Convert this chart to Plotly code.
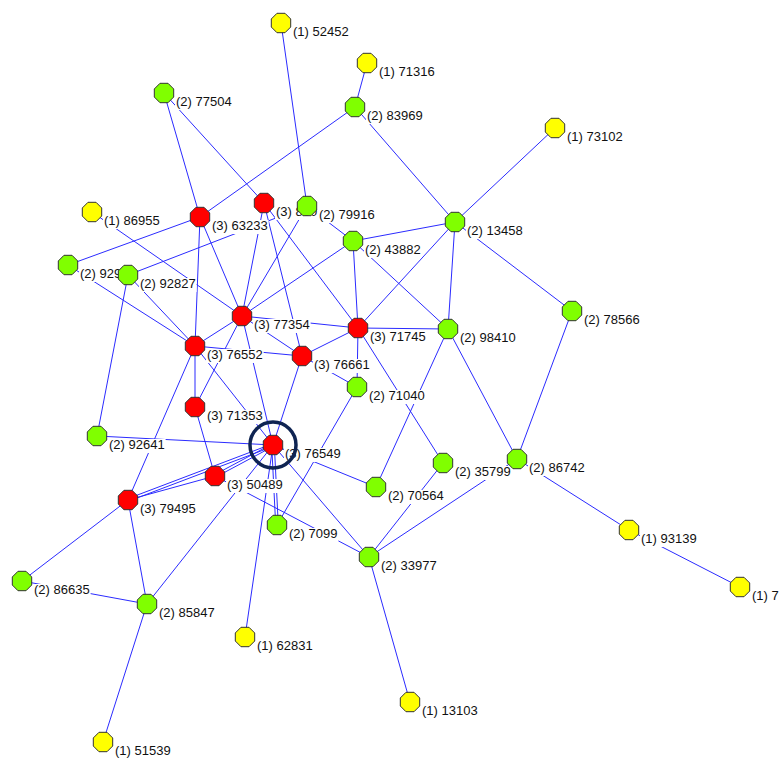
import math
import plotly.graph_objects as go

# ---- data ----
node_ids = ["52452", "71316", "83969", "77504", "73102", "86955", "63233", "860",
            "79916", "43882", "13458", "929", "92827", "77354", "71745", "98410",
            "78566", "76552", "76661", "71040", "71353", "92641", "76549", "50489",
            "79495", "35799", "86742", "70564", "7099", "33977", "93139", "7",
            "86635", "85847", "62831", "13103", "51539"]
node_level = [1, 1, 2, 2, 1, 1, 3, 3,
              2, 2, 2, 2, 2, 3, 3, 2,
              2, 3, 3, 2, 3, 2, 3, 3,
              3, 2, 2, 2, 2, 2, 1, 1,
              2, 2, 1, 1, 1]
node_x = [281, 367, 355, 164, 555, 92, 200, 264,
          307, 353, 455, 68, 128, 242, 358, 448,
          572, 195, 302, 357, 195, 97, 273, 215,
          128, 443, 517, 376, 277, 369, 629, 740,
          22, 147, 245, 410, 103]
node_y = [23, 63, 107, 93, 128, 212, 217, 203,
          206, 241, 222, 265, 275, 316, 328, 329,
          311, 346, 356, 387, 407, 436, 445, 476,
          500, 463, 459, 487, 525, 557, 530, 587,
          581, 604, 637, 702, 742]
edges = [("52452", "79916"), ("71316", "83969"), ("83969", "63233"), ("83969", "13458"),
         ("77504", "63233"), ("77504", "860"), ("73102", "13458"), ("86955", "77354"),
         ("63233", "929"), ("63233", "76552"), ("63233", "77354"), ("860", "77354"),
         ("860", "76661"), ("860", "71745"), ("79916", "92827"), ("79916", "77354"),
         ("79916", "43882"), ("43882", "13458"), ("43882", "71745"), ("43882", "98410"),
         ("43882", "77354"), ("13458", "71745"), ("13458", "98410"), ("13458", "78566"),
         ("929", "76552"), ("92827", "76552"), ("92827", "92641"), ("77354", "76552"),
         ("77354", "76661"), ("77354", "71745"), ("77354", "71353"), ("77354", "76549"),
         ("71745", "98410"), ("71745", "76661"), ("71745", "71040"), ("71745", "35799"),
         ("98410", "70564"), ("98410", "86742"), ("78566", "86742"), ("76552", "76661"),
         ("76552", "71353"), ("76552", "76549"), ("76552", "79495"), ("76661", "71040"),
         ("76661", "76549"), ("71040", "7099"), ("71353", "50489"), ("92641", "76549"),
         ("76549", "50489"), ("76549", "79495"), ("76549", "7099"), ("76549", "62831"),
         ("76549", "85847"), ("76549", "70564"), ("76549", "33977"), ("50489", "79495"),
         ("50489", "33977"), ("79495", "86635"), ("79495", "85847"), ("86635", "85847"),
         ("85847", "51539"), ("35799", "33977"), ("86742", "33977"), ("86742", "93139"),
         ("93139", "7"), ("33977", "13103")]
# edges that are drawn as two parallel lines (links in both directions)
double_edges = [("76549", "50489"), ("76549", "79495"), ("76549", "7099")]
focus_node = "76549"

level_color = {1: "#FFFF00", 2: "#80FF00", 3: "#FF0000"}
FONT = "Liberation Sans, Arial, sans-serif"
FS = 13
W, H = 779, 760

pos = {n: (x, y) for n, x, y in zip(node_ids, node_x, node_y)}

fig = go.Figure()

# edges
ex, ey = [], []
dbl = set(double_edges)
for a, b in edges:
    (x1, y1), (x2, y2) = pos[a], pos[b]
    if (a, b) in dbl or (b, a) in dbl:
        L = math.hypot(x2 - x1, y2 - y1)
        nx, ny = -(y2 - y1) / L, (x2 - x1) / L
        for s in (-1.3, 1.3):
            ex += [x1 + nx * s, x2 + nx * s, None]
            ey += [y1 + ny * s, y2 + ny * s, None]
    else:
        ex += [x1, x2, None]
        ey += [y1, y2, None]
fig.add_trace(go.Scatter(x=ex, y=ey, mode="lines",
                         line=dict(color="#2b2bff", width=1), hoverinfo="skip"))

def text_width(s):
    w = 0
    for ch in s:
        if ch in "()":
            w += 0.333
        elif ch == " ":
            w += 0.278
        else:
            w += 0.556
    return w * FS

# labels (white box + text), drawn in order
for n, lv in zip(node_ids, node_level):
    x, y = pos[n]
    label = f"({lv}) {n}"
    lx = x + 12
    ly = y + 10
    w = text_width(label)
    x0, x1 = lx - 1, lx + w + 1
    y0, y1 = ly - 7, ly + 7
    fig.add_trace(go.Scatter(x=[x0, x1, x1, x0, x0], y=[y0, y0, y1, y1, y0],
                             mode="lines", fill="toself", fillcolor="white",
                             line=dict(width=0, color="white"), hoverinfo="skip"))
    fig.add_trace(go.Scatter(x=[lx], y=[ly], mode="text", text=[label],
                             textposition="middle right",
                             textfont=dict(family=FONT, size=FS, color="#111111"),
                             hoverinfo="skip", cliponaxis=False))

# nodes
fig.add_trace(go.Scatter(
    x=node_x, y=node_y, mode="markers",
    marker=dict(symbol="octagon", size=21,
                color=[level_color[l] for l in node_level],
                line=dict(color="#333333", width=1)),
    hoverinfo="skip"))

cx, cy = pos[focus_node]
r = 23
fig.add_shape(type="circle", xref="x", yref="y", x0=cx - r, x1=cx + r,
              y0=cy - r, y1=cy + r, line=dict(color="#0f2452", width=3.5),
              layer="above")

fig.update_layout(width=W, height=H,
                  margin=dict(l=0, r=0, t=0, b=0),
                  paper_bgcolor="white", plot_bgcolor="white", showlegend=False,
                  hovermode=False,
                  xaxis=dict(range=[0, W], visible=False, fixedrange=True),
                  yaxis=dict(range=[H, 0], visible=False, fixedrange=True))
fig.write_html("out.html", config={"displayModeBar": False},
               post_script="document.body.style.margin='0';"
                           "document.body.style.overflow='hidden';")
